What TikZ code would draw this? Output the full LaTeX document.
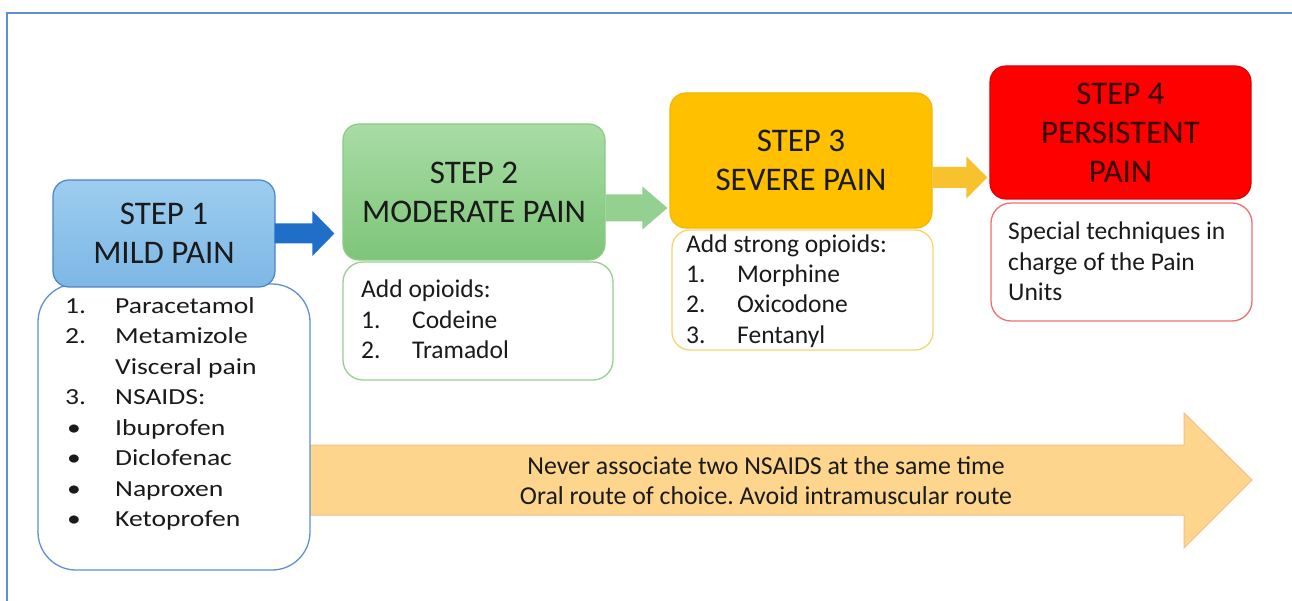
\documentclass[tikz,border=0pt]{standalone}
\usepackage{fontspec}
\setmainfont{Carlito}
\newfontfamily\widefont[FakeStretch=1.2]{Carlito}
\usetikzlibrary{calc}
\frenchspacing
\definecolor{framec}{HTML}{5E8FD6}
\definecolor{sonetop}{HTML}{9DCDEF}
\definecolor{sonebot}{HTML}{7DB7E5}
\definecolor{sonedraw}{HTML}{4D84C4}
\definecolor{arrowone}{HTML}{1F6FC9}
\definecolor{lonedraw}{HTML}{5D90D6}
\definecolor{stwotop}{HTML}{A9DCA5}
\definecolor{stwobot}{HTML}{7DC578}
\definecolor{stwodraw}{HTML}{8BCB86}
\definecolor{arrowtwo}{HTML}{94D190}
\definecolor{ltwodraw}{HTML}{9ACF93}
\definecolor{sthreefill}{HTML}{FFC000}
\definecolor{sthreedraw}{HTML}{F3B700}
\definecolor{arrowthree}{HTML}{F8C12E}
\definecolor{lthreedraw}{HTML}{F7D56E}
\definecolor{sfourfill}{HTML}{FF0000}
\definecolor{sfourdraw}{HTML}{E00000}
\definecolor{lfourdraw}{HTML}{EE6F6F}
\definecolor{bigfill}{HTML}{FDD58C}
\definecolor{bigdraw}{HTML}{F6BE86}
\definecolor{txt}{HTML}{1A1A1A}
\newcommand\blockarrow[6]{%
  \fill[#1] let \p1=(#2), \p2=(#3) in
    (\x1,\y1+#4) -- (\x2-#6,\y1+#4) -- (\x2-#6,\y1+#5) -- (\x2,\y1)
    -- (\x2-#6,\y1-#5) -- (\x2-#6,\y1-#4) -- (\x1,\y1-#4) -- cycle;}
\begin{document}
\begin{tikzpicture}[x=1pt,y=-1pt,
  stepbox/.style={rounded corners=16pt, line width=1.2pt, inner sep=0pt, align=center,
    text=txt, font=\fontsize{33}{39}\selectfont},
  listbox/.style={fill=white, line width=1.3pt, inner sep=0pt},
  listtext/.style={anchor=base west, inner sep=0pt, align=left, text=txt,
    font=\fontsize{25.5}{30.3}\selectfont},
  notetext/.style={inner sep=0pt, align=center, text=txt,
    font=\fontsize{25.8}{30}\selectfont}]
\useasboundingbox (0,0) rectangle (1292,601);
\fill[white] (0,0) rectangle (1292,601);
\draw[framec, line width=2pt] (7,601) -- (7,13) -- (1292,13);

% long arrow
\filldraw[fill=bigfill, draw=bigdraw, line width=1pt]
  (305,445) -- (1184,445) -- (1184,413) -- (1252,480) -- (1184,548) -- (1184,515) -- (305,515) -- cycle;
\node[notetext] (note) at (766,481) {Never associate two NSAIDS at the same time\\Oral route of choice. Avoid intramuscular route};

% list boxes
\node[listbox, draw=lonedraw, rounded corners=38pt, minimum width=272pt, minimum height=286pt] (l1) at (174,427) {};
\node[listbox, draw=ltwodraw, rounded corners=20pt, minimum width=270pt, minimum height=118pt] (l2) at (478,321) {};
\node[listbox, draw=lthreedraw, rounded corners=18pt, minimum width=261pt, minimum height=120pt] (l3) at (802.5,290) {};
\node[listbox, draw=lfourdraw, rounded corners=20pt, minimum width=261pt, minimum height=118pt] (l4) at (1121.5,262) {};

% step boxes
\node[stepbox, top color=sonetop, bottom color=sonebot, draw=sonedraw, minimum width=222pt, minimum height=107pt] (s1) at (164,233.5) {STEP 1\\MILD PAIN};
\node[stepbox, top color=stwotop, bottom color=stwobot, draw=stwodraw, minimum width=262pt, minimum height=136pt] (s2) at (474,192) {STEP 2\\MODERATE PAIN};
\node[stepbox, fill=sthreefill, draw=sthreedraw, minimum width=262pt, minimum height=135pt] (s3) at (801,160.5) {STEP 3\\SEVERE PAIN};
\node[stepbox, fill=sfourfill, draw=sfourdraw, text=black!80!red, minimum width=261pt, minimum height=133pt] (s4) at (1120.5,132.5) {STEP 4\\PERSISTENT\\PAIN};

% arrows between steps
\blockarrow{arrowone}{$(s1.east)+(-1,0)$}{$(s2.west)+(-8,0)$}{10pt}{22.5pt}{22pt}
\blockarrow{arrowtwo}{$(s2.east)+(0,16)$}{$(s3.west)+(-2,0)$}{13.5pt}{21.5pt}{25pt}
\blockarrow{arrowthree}{$(s3.east)+(0,17)$}{$(s4.west)+(-2,0)$}{10.5pt}{21pt}{21pt}

% list texts (anchored at the baseline of their last line)
\node[listtext, font=\widefont\fontsize{23}{30.5}\selectfont] (t1) at (65,526.5) {%
\makebox[50pt][l]{1.}Paracetamol\\
\makebox[50pt][l]{2.}Metamizole\\
\makebox[50pt][l]{}Visceral pain\\
\makebox[50pt][l]{3.}NSAIDS:\\
\makebox[50pt][l]{\hspace{2pt}•}Ibuprofen\\
\makebox[50pt][l]{\hspace{2pt}•}Diclofenac\\
\makebox[50pt][l]{\hspace{2pt}•}Naproxen\\
\makebox[50pt][l]{\hspace{2pt}•}Ketoprofen};
\node[listtext] (t2) at (361,358.5) {%
Add opioids:\\
\makebox[51pt][l]{1.}Codeine\\
\makebox[51pt][l]{2.}Tramadol};
\node[listtext] (t3) at (686,343) {%
Add strong opioids:\\
\makebox[51pt][l]{1.}Morphine\\
\makebox[51pt][l]{2.}Oxicodone\\
\makebox[51pt][l]{3.}Fentanyl};
\node[listtext] (t4) at (1008,300.5) {%
Special techniques in\\
charge of the Pain\\
Units};
\end{tikzpicture}
\end{document}
